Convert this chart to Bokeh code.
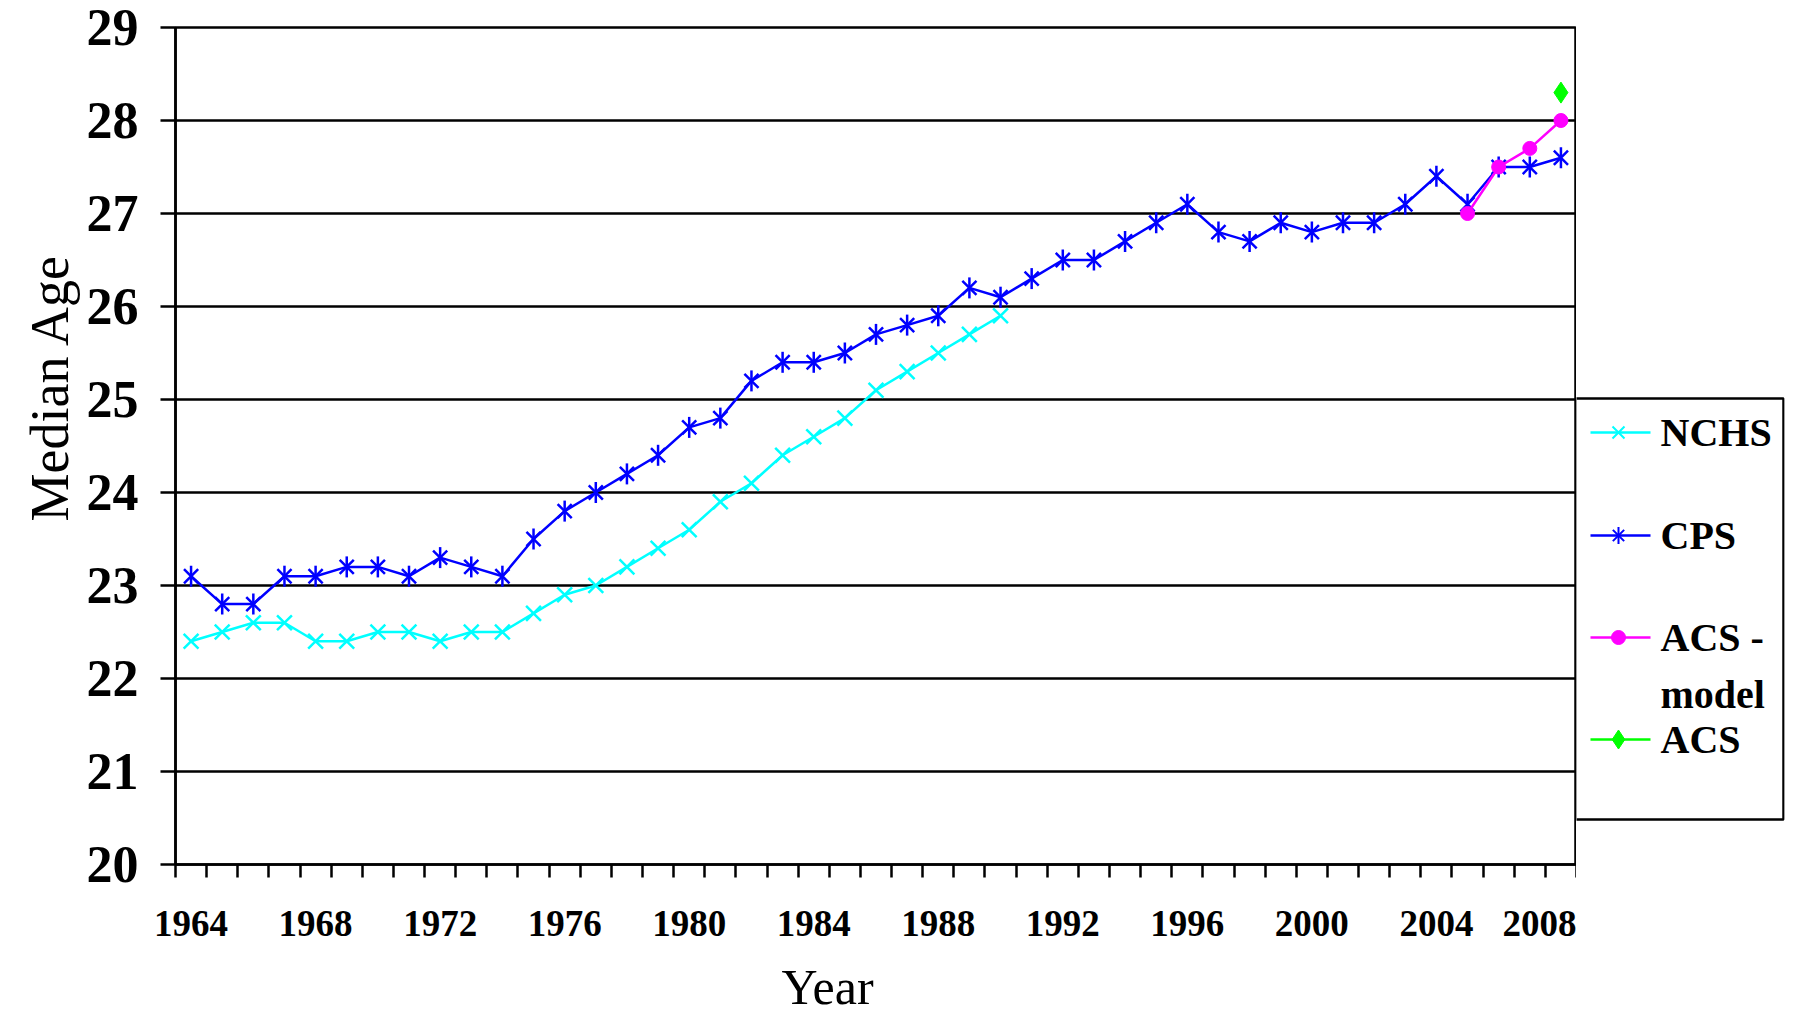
import numpy as np
from bokeh.plotting import figure
from bokeh.models import Range1d, FixedTicker, Title
from bokeh.layouts import row
from bokeh.core.properties import value
from bokeh.embed import file_html
from bokeh.resources import INLINE

# ---------------- data ----------------
cps_years = list(range(1964, 2009))
cps_vals = [23.1, 22.8, 22.8, 23.1, 23.1, 23.2, 23.2, 23.1, 23.3, 23.2,
            23.1, 23.5, 23.8, 24.0, 24.2, 24.4, 24.7, 24.8, 25.2, 25.4,
            25.4, 25.5, 25.7, 25.8, 25.9, 26.2, 26.1, 26.3, 26.5, 26.5,
            26.7, 26.9, 27.1, 26.8, 26.7, 26.9, 26.8, 26.9, 26.9, 27.1,
            27.4, 27.1, 27.5, 27.5, 27.6]

nchs_years = list(range(1964, 1991))
nchs_vals = [22.4, 22.5, 22.6, 22.6, 22.4, 22.4, 22.5, 22.5, 22.4, 22.5,
             22.5, 22.7, 22.9, 23.0, 23.2, 23.4, 23.6, 23.9, 24.1, 24.4,
             24.6, 24.8, 25.1, 25.3, 25.5, 25.7, 25.9]

acs_model_years = [2005, 2006, 2007, 2008]
acs_model_vals = [27.0, 27.5, 27.7, 28.0]

acs_years = [2008]
acs_vals = [28.3]

y_ticks = [20, 21, 22, 23, 24, 25, 26, 27, 28, 29]
x_label_years = [1964, 1968, 1972, 1976, 1980, 1984, 1988, 1992, 1996, 2000, 2004, 2008]

legend_labels = ["NCHS", "CPS", "ACS -", "model", "ACS"]

CYAN = "#00FFFF"
BLUE = "#0000FF"
MAGENTA = "#FF00FF"
GREEN = "#00FF00"
FONT = "Liberation Serif"
LW = 2.5

# ---------------- main plot ----------------
p = figure(frame_width=1401, frame_height=837,
           x_range=Range1d(1963.5, 2008.5), y_range=Range1d(20, 29),
           output_backend="svg", toolbar_location=None,
           min_border_left=175, min_border_top=27,
           min_border_right=0, min_border_bottom=0)
p.background_fill_color = "white"
p.border_fill_color = "white"
p.outline_line_color = "black"
p.outline_line_width = LW

# y axis
ya = p.yaxis[0]
ya.ticker = FixedTicker(ticks=y_ticks)
ya.major_tick_in = 0
ya.major_tick_out = 15
ya.major_tick_line_width = LW
ya.major_tick_line_color = "black"
ya.minor_tick_line_color = None
ya.axis_line_width = LW
ya.axis_line_color = "black"
ya.major_label_text_font = FONT
ya.major_label_text_font_style = "bold"
ya.major_label_text_font_size = "52px"
ya.major_label_text_color = "black"
ya.major_label_standoff = 22

p.ygrid.ticker = FixedTicker(ticks=y_ticks)
p.ygrid.grid_line_color = "black"
p.ygrid.grid_line_width = LW
p.xgrid.visible = False

# x axis: labels every 4 years, tick marks between years (minor ticks)
half_years = list(np.arange(1963.5, 2009.0, 1.0))
xa = p.xaxis[0]
xa.ticker = FixedTicker(ticks=x_label_years, minor_ticks=half_years)
xa.axis_line_width = LW
xa.axis_line_color = "black"
xa.major_tick_line_color = None
xa.major_tick_in = 0
xa.major_tick_out = 0
xa.minor_tick_in = 0
xa.minor_tick_out = 13
xa.minor_tick_line_width = LW
xa.minor_tick_line_color = "black"
xa.major_label_standoff = 33
xa.major_label_text_font = FONT
xa.major_label_text_font_style = "bold"
xa.major_label_text_font_size = "37px"
xa.major_label_text_color = "black"

t_year = Title(text="Year", align="left", offset=606, standoff=40,
               vertical_align="top",
               text_font=FONT, text_font_style="normal",
               text_font_size="50px", text_color="black")
p.add_layout(t_year, "below")

t_med = Title(text="Median Age", align="left", offset=343, standoff=3,
              vertical_align="top",
              text_font=FONT, text_font_style="normal",
              text_font_size="54px", text_color="black")
p.add_layout(t_med, "left")

# series
p.line(nchs_years, nchs_vals, line_color=CYAN, line_width=LW)
p.scatter(nchs_years, nchs_vals, marker="x", size=21, line_color=CYAN, line_width=LW)

p.line(cps_years, cps_vals, line_color=BLUE, line_width=LW)
p.scatter(cps_years, cps_vals, marker="x", size=20, line_color=BLUE, line_width=LW)
p.scatter(cps_years, cps_vals, marker="dash", angle=np.pi / 2, size=21,
          line_color=BLUE, line_width=LW)

p.line(acs_model_years, acs_model_vals, line_color=MAGENTA, line_width=LW)
p.scatter(acs_model_years, acs_model_vals, marker="circle", size=14,
          fill_color=MAGENTA, line_color=MAGENTA)

p.scatter(acs_years, acs_vals, marker="diamond", size=21,
          fill_color=GREEN, line_color=GREEN)

# ---------------- legend (separate panel, same frame height) ----------------
lg = figure(frame_width=208, frame_height=837,
            x_range=Range1d(1576, 1784), y_range=Range1d(864, 27),
            output_backend="svg", toolbar_location=None,
            x_axis_location=None, y_axis_location=None,
            min_border_left=0, min_border_right=2,
            min_border_top=27, min_border_bottom=0)
lg.outline_line_color = None
lg.xgrid.visible = False
lg.ygrid.visible = False
lg.background_fill_color = "white"
lg.border_fill_color = "white"

lg.quad(left=[1575], right=[1783], top=[398], bottom=[819],
        fill_color="white", line_color="black", line_width=LW)

ly = [432, 535, 637, 739]
cols = [CYAN, BLUE, MAGENTA, GREEN]
for yy, c in zip(ly, cols):
    lg.segment(x0=[1590], y0=[yy], x1=[1650], y1=[yy], line_color=c, line_width=LW)
lg.scatter([1618], [ly[0]], marker="x", size=17, line_color=CYAN, line_width=2)
lg.scatter([1618], [ly[1]], marker="x", size=16, line_color=BLUE, line_width=2)
lg.scatter([1618], [ly[1]], marker="dash", angle=np.pi / 2, size=17,
           line_color=BLUE, line_width=2)
lg.scatter([1618], [ly[2]], marker="circle", size=14, fill_color=MAGENTA, line_color=MAGENTA)
lg.scatter([1618], [ly[3]], marker="diamond", size=19, fill_color=GREEN, line_color=GREEN)

lg.text(x=[1660] * 5, y=[432, 535, 637, 694, 739], text=legend_labels,
        text_font=value(FONT), text_font_style="bold", text_font_size="40px",
        text_color="black", text_align="left", text_baseline="middle")

layout = row(p, lg, spacing=0)

open("out.html", "w").write(file_html(layout, INLINE))
